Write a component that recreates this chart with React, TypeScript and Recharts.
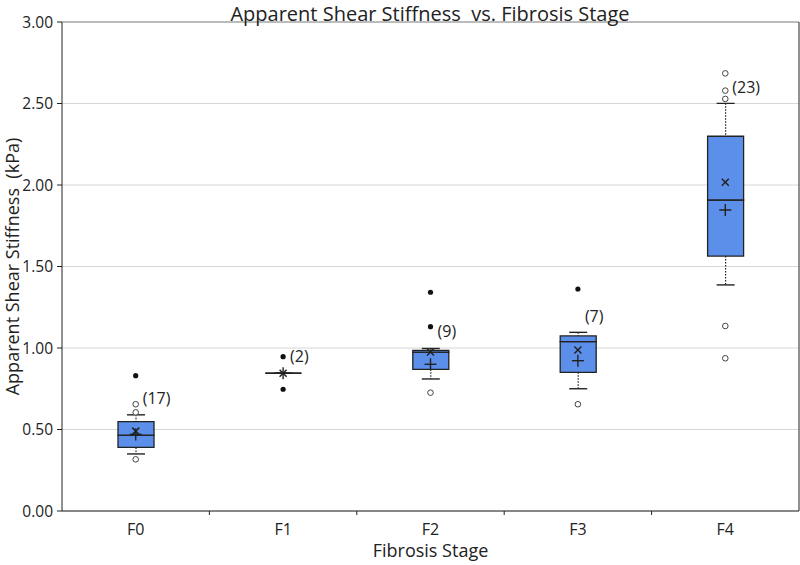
import React from 'react';
import { ComposedChart, Bar, Scatter, XAxis, YAxis, CartesianGrid, ReferenceLine } from 'recharts';

const categories = ['F0', 'F1', 'F2', 'F3', 'F4'];
const lowerWhisker = [0.35, 0.845, 0.81, 0.75, 1.387];
const q1 = [0.39, 0.845, 0.869, 0.851, 1.564];
const median = [0.466, 0.845, 0.975, 1.039, 1.908];
const q3 = [0.548, 0.845, 0.985, 1.074, 2.299];
const upperWhisker = [0.59, 0.845, 0.997, 1.096, 2.501];
const meanCross = [0.49, 0.845, 0.975, 0.988, 2.017];
const meanPlus = [0.47, 0.845, 0.9, 0.922, 1.847];
const counts = [17, 2, 9, 7, 23];
const countLabelAt = [0.693, 0.95, 1.104, 1.196, 2.6];

const farPointCats = ['F0', 'F1', 'F1', 'F2', 'F2', 'F3'];
const farPointVals = [0.83, 0.947, 0.747, 1.342, 1.131, 1.362];
const nearPointCats = ['F0', 'F0', 'F0', 'F2', 'F3', 'F4', 'F4', 'F4', 'F4', 'F4'];
const nearPointVals = [0.605, 0.655, 0.317, 0.726, 0.655, 2.685, 2.579, 2.528, 1.135, 0.937];

const yTicks = [0, 0.5, 1, 1.5, 2, 2.5, 3];

const FONT = '"Open Sans", "Noto Sans", sans-serif';
const INK = '#222';
const BOX_FILL = '#5b8fe9';

const rows = categories.map((name, i) => ({
  name,
  base: lowerWhisker[i],
  whiskLow: q1[i] - lowerWhisker[i],
  boxLow: median[i] - q1[i],
  boxHigh: q3[i] - median[i],
  whiskHigh: upperWhisker[i] - q3[i],
  meanCross: meanCross[i],
  meanPlus: meanPlus[i],
  labelAt: countLabelAt[i],
  count: counts[i],
}));

const farPoints = farPointCats.map((name, i) => ({ name, v: farPointVals[i] }));
const nearPoints = nearPointCats.map((name, i) => ({ name, v: nearPointVals[i] }));

const norm = (p: any) => {
  const top = Math.min(p.y, p.y + p.height);
  const bottom = Math.max(p.y, p.y + p.height);
  return { top, bottom, cx: p.x + p.width / 2 };
};

const Empty = () => <g />;

const WhiskerLow = (p: any) => {
  const { top, bottom, cx } = norm(p);
  return (
    <g>
      <line x1={cx} x2={cx} y1={top} y2={bottom} stroke={INK} strokeWidth={1.2} strokeDasharray="1.5 1.5" />
      <line x1={cx - 9} x2={cx + 9} y1={bottom} y2={bottom} stroke={INK} strokeWidth={1.4} />
    </g>
  );
};

const WhiskerHigh = (p: any) => {
  const { top, bottom, cx } = norm(p);
  return (
    <g>
      <line x1={cx} x2={cx} y1={top} y2={bottom} stroke={INK} strokeWidth={1.2} strokeDasharray="1.5 1.5" />
      <line x1={cx - 9} x2={cx + 9} y1={top} y2={top} stroke={INK} strokeWidth={1.4} />
    </g>
  );
};

const BoxPiece = (p: any) => {
  const { top, bottom } = norm(p);
  const x0 = p.x;
  const x1 = p.x + p.width;
  return (
    <path
      d={`M${x0},${top} H${x1} V${bottom} H${x0} Z`}
      fill={BOX_FILL}
      stroke={INK}
      strokeWidth={1.3}
    />
  );
};

const CrossMark = (p: any) => {
  const { cx, cy } = p;
  const s = 3.5;
  return (
    <g stroke={INK} strokeWidth={1.5}>
      <line x1={cx - s} y1={cy - s} x2={cx + s} y2={cy + s} />
      <line x1={cx - s} y1={cy + s} x2={cx + s} y2={cy - s} />
    </g>
  );
};

const PlusMark = (p: any) => {
  const { cx, cy } = p;
  const s = 6;
  return (
    <g stroke={INK} strokeWidth={1.4}>
      <line x1={cx - s} y1={cy} x2={cx + s} y2={cy} />
      <line x1={cx} y1={cy - s} x2={cx} y2={cy + s} />
    </g>
  );
};

const FilledDot = (p: any) => <circle cx={p.cx} cy={p.cy} r={2.6} fill="#111" />;
const OpenDot = (p: any) => <circle cx={p.cx} cy={p.cy} r={2.8} fill="#fff" stroke="#444" strokeWidth={1} />;

const CountLabel = (p: any) => (
  <text x={p.cx + 7} y={p.cy + 6} fontFamily={FONT} fontSize={16} fill="#222">
    ({p.payload.count})
  </text>
);

const XTick = (p: any) => {
  const { x, y, payload, index } = p;
  const off = payload && payload.offset ? payload.offset : 73.7;
  const axisY = y - 4;
  return (
    <g>
      {index < categories.length - 1 && (
        <line x1={x + off} x2={x + off} y1={axisY} y2={axisY + 4} stroke={INK} strokeWidth={1} />
      )}
      <text x={x} y={y + 20} textAnchor="middle" fontFamily={FONT} fontSize={16} fill="#222">
        {payload.value}
      </text>
    </g>
  );
};

const XTitle = (p: any) => {
  const vb = p.viewBox || { x: 62, y: 511, width: 737, height: 54 };
  return (
    <text x={vb.x + vb.width / 2} y={vb.y + 46} textAnchor="middle" fontFamily={FONT} fontSize={18} fill="#222">
      Fibrosis Stage
    </text>
  );
};

const YTitle = (p: any) => {
  const vb = p.viewBox || { x: 0, y: 22, width: 62, height: 489 };
  const cx = vb.x + 19;
  const cy = vb.y + vb.height / 2;
  return (
    <text
      x={cx}
      y={cy}
      textAnchor="middle"
      transform={`rotate(-90, ${cx}, ${cy})`}
      fontFamily={FONT}
      fontSize={18}
      fill="#222"
      style={{ whiteSpace: 'pre' }}
    >
      {'Apparent Shear Stiffness  (kPa)'}
    </text>
  );
};

export default function App() {
  return (
    <div style={{ position: 'absolute', left: 0, top: 0, width: 800, height: 565, background: '#fff' }}>
      <div style={{ position: 'absolute', left: 0, top: 0 }}>
        <ComposedChart
          width={800}
          height={565}
          data={rows}
          margin={{ top: 22, right: 0, bottom: 0, left: 0 }}
          barSize={36}
        >
          <CartesianGrid vertical={false} stroke="#d6d6d6" strokeWidth={1} />
          <XAxis
            dataKey="name"
            type="category"
            allowDuplicatedCategory={false}
            height={54}
            tickLine={false}
            tickSize={4}
            tickMargin={0}
            axisLine={{ stroke: INK, strokeWidth: 1 }}
            tick={<XTick />}
            interval={0}
            label={<XTitle />}
          />
          <YAxis
            domain={[0, 3]}
            ticks={yTicks}
            allowDataOverflow
            width={62}
            tickSize={5}
            tickMargin={4}
            tickFormatter={(v: number) => v.toFixed(2)}
            tick={{ fontFamily: FONT, fontSize: 15.5, fill: '#222' }}
            tickLine={{ stroke: INK }}
            axisLine={{ stroke: INK, strokeWidth: 1 }}
            label={<YTitle />}
          />
          <YAxis
            yAxisId="right"
            orientation="right"
            domain={[0, 3]}
            width={1}
            tick={false}
            tickLine={false}
            axisLine={{ stroke: INK, strokeWidth: 1 }}
          />
          <ReferenceLine y={3} stroke="#8c8c8c" strokeWidth={1} />
          <Bar dataKey="base" stackId="box" shape={<Empty />} isAnimationActive={false} />
          <Bar dataKey="whiskLow" stackId="box" shape={<WhiskerLow />} isAnimationActive={false} />
          <Bar dataKey="boxLow" stackId="box" shape={<BoxPiece />} isAnimationActive={false} />
          <Bar dataKey="boxHigh" stackId="box" shape={<BoxPiece />} isAnimationActive={false} />
          <Bar dataKey="whiskHigh" stackId="box" shape={<WhiskerHigh />} isAnimationActive={false} />
          <Scatter dataKey="meanPlus" shape={<PlusMark />} isAnimationActive={false} />
          <Scatter dataKey="meanCross" shape={<CrossMark />} isAnimationActive={false} />
          <Scatter data={farPoints} dataKey="v" shape={<FilledDot />} isAnimationActive={false} />
          <Scatter data={nearPoints} dataKey="v" shape={<OpenDot />} isAnimationActive={false} />
          <Scatter dataKey="labelAt" shape={<CountLabel />} isAnimationActive={false} />
        </ComposedChart>
      </div>
      <div
        style={{
          position: 'absolute',
          left: 60,
          width: 740,
          top: 0,
          textAlign: 'center',
          fontFamily: FONT,
          fontSize: 20,
          color: '#222',
          whiteSpace: 'pre',
          lineHeight: '27px',
        }}
      >
        {'Apparent Shear Stiffness  vs. Fibrosis Stage'}
      </div>
    </div>
  );
}
